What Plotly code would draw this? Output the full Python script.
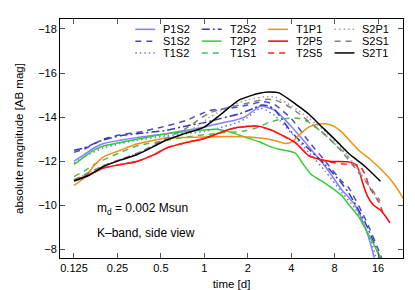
import plotly.graph_objects as go

# ---------------- data ----------------
series_names = ["P1S2", "S1S2", "T1S2", "T2S2", "T2P2", "T1S1",
                "T1P1", "T2P5", "T2S5", "S2P1", "S2S1", "S2T1"]

t_P1S2 = [0.125, 0.147, 0.172, 0.2, 0.262, 0.34, 0.548, 0.75, 1.0, 1.25, 1.6, 1.9, 2.2, 2.45, 2.7, 3.1, 4.04, 5.29, 6.89, 8.93, 11.1, 13.0, 14.4, 15.3]
m_P1S2 = [-12.0, -12.3, -12.6, -12.8, -12.95, -13.07, -13.25, -13.4, -13.55, -13.7, -13.85, -14.0, -14.3, -14.5, -14.45, -14.3, -13.55, -12.66, -11.76, -10.72, -10.0, -9.0, -8.1, -7.4]

t_S1S2 = [0.125, 0.147, 0.2, 0.262, 0.34, 0.548, 0.75, 1.09, 1.5, 2.0, 2.6, 3.1, 4.04, 5.29, 6.89, 8.93, 10.0, 13.0, 16.5, 17.3]
m_S1S2 = [-12.4, -12.55, -13.0, -13.2, -13.3, -13.6, -13.85, -14.3, -14.4, -14.55, -14.7, -14.55, -13.9, -12.9, -12.0, -11.1, -10.8, -9.4, -7.8, -7.4]

t_T1S2 = [0.125, 0.147, 0.2, 0.262, 0.34, 0.548, 0.75, 1.0, 1.25, 1.6, 1.9, 2.2, 2.45, 2.7, 3.1, 4.04, 5.29, 6.89, 8.93, 11.1, 13.0, 14.4, 15.8]
m_T1S2 = [-11.9, -12.2, -12.6, -12.8, -12.95, -13.15, -13.25, -13.35, -13.5, -13.7, -13.9, -14.2, -14.4, -14.3, -14.05, -13.25, -12.4, -11.55, -10.6, -9.85, -9.0, -8.3, -7.4]

t_T2S2 = [0.125, 0.147, 0.172, 0.2, 0.262, 0.34, 0.548, 0.75, 1.0, 1.27, 1.75, 2.2, 2.5, 2.8, 3.1, 4.04, 5.29, 6.89, 8.93, 10.0, 13.0, 16.2, 17.0]
m_T2S2 = [-12.5, -12.6, -12.8, -12.97, -13.15, -13.25, -13.4, -13.6, -13.75, -13.92, -14.15, -14.4, -14.55, -14.5, -14.3, -13.3, -12.55, -11.84, -11.0, -10.57, -9.23, -7.75, -7.4]

t_T2P2 = [0.125, 0.147, 0.172, 0.2, 0.262, 0.34, 0.548, 0.75, 1.0, 1.2, 1.49, 1.9, 2.4, 2.9, 3.29, 3.7, 4.3, 4.8, 5.5, 6.89, 8.93, 9.97, 11.7, 13.0, 15.0, 17.2]
m_T2P2 = [-11.85, -12.2, -12.5, -12.69, -12.85, -13.0, -13.25, -13.35, -13.42, -13.45, -13.33, -13.1, -12.88, -12.65, -12.54, -12.48, -12.35, -11.9, -11.4, -11.0, -10.45, -10.05, -9.5, -8.96, -8.2, -7.4]

t_T1S1 = [0.125, 0.147, 0.172, 0.2, 0.262, 0.34, 0.548, 0.75, 1.0, 1.4, 1.9, 2.4, 2.81, 3.4, 4.04, 4.6, 5.29, 6.89, 8.93, 9.97]
m_T1S1 = [-11.3, -11.55, -11.85, -12.06, -12.4, -12.69, -12.95, -13.1, -13.2, -13.3, -13.37, -13.55, -13.77, -13.9, -13.96, -13.93, -13.77, -13.18, -12.5, -12.2]

t_T1P1 = [0.125, 0.147, 0.172, 0.2, 0.262, 0.34, 0.548, 0.75, 1.0, 1.5, 2.05, 2.8, 3.3, 3.66, 4.1, 4.52, 5.29, 6.0, 6.89, 7.8, 8.93, 11.68, 14.0, 16.81, 20.0, 23.4, 24.5]
m_T1P1 = [-10.9, -11.24, -11.8, -12.2, -12.5, -12.78, -13.05, -13.08, -13.1, -13.12, -13.1, -13.0, -12.88, -12.8, -12.9, -13.18, -13.55, -13.67, -13.7, -13.6, -13.33, -12.51, -12.1, -11.62, -11.08, -10.42, -10.2]

t_T2P5 = [0.125, 0.147, 0.172, 0.2, 0.262, 0.34, 0.45, 0.548, 0.75, 1.0, 1.5, 2.0, 2.4, 2.8, 3.1, 4.29, 5.29, 6.2, 7.49, 9.97, 11.2, 11.9, 12.5, 13.5, 14.9, 16.5, 17.8, 19.3]
m_T2P5 = [-11.15, -11.3, -11.5, -11.69, -11.85, -11.99, -12.3, -12.6, -12.85, -13.03, -13.45, -13.58, -13.58, -13.45, -13.33, -12.83, -12.25, -12.1, -11.99, -11.97, -11.85, -11.5, -11.02, -10.42, -10.0, -9.8, -9.55, -9.2]

t_T2S5 = [0.125, 0.147, 0.172, 0.2, 0.262, 0.34, 0.45, 0.548, 0.75, 1.0, 1.5, 2.0, 2.4, 2.8, 3.1, 4.29, 5.29, 6.2, 7.49, 9.97, 11.9, 13.0, 14.0, 16.3, 17.6]
m_T2S5 = [-11.15, -11.3, -11.5, -11.69, -11.85, -11.99, -12.3, -12.6, -12.85, -13.03, -13.45, -13.58, -13.58, -13.45, -13.33, -12.83, -12.25, -12.1, -11.95, -11.85, -11.8, -11.4, -10.8, -10.1, -9.5]

t_S2P1 = [0.125, 0.2, 0.34, 0.548, 0.73, 0.9, 1.09, 1.5, 2.05, 2.6, 3.1, 4.04, 5.29, 6.89, 8.93, 11.68, 14.4, 16.8]
m_S2P1 = [-11.15, -11.8, -12.35, -13.0, -13.3, -13.6, -14.0, -14.5, -14.8, -14.92, -14.9, -14.5, -13.95, -13.35, -12.6, -11.6, -10.7, -10.0]

t_S2S1 = [0.125, 0.2, 0.34, 0.548, 0.73, 0.9, 1.09, 1.5, 2.05, 2.6, 3.1, 4.04, 5.29, 6.89, 8.93, 11.68, 14.4, 16.5]
m_S2S1 = [-11.15, -11.8, -12.35, -13.05, -13.45, -13.85, -14.2, -14.45, -14.65, -14.8, -14.78, -14.4, -13.8, -13.2, -12.45, -11.5, -10.75, -10.2]

t_S2T1 = [0.125, 0.158, 0.2, 0.262, 0.34, 0.548, 0.73, 1.0, 1.27, 1.75, 2.4, 2.81, 3.29, 4.29, 5.29, 6.2, 8.08, 9.97, 13.0, 16.6]
m_S2T1 = [-11.1, -11.35, -11.76, -12.05, -12.29, -12.96, -13.25, -13.55, -14.07, -14.78, -15.08, -15.14, -15.1, -14.59, -14.14, -13.7, -12.97, -12.36, -11.76, -11.09]

x_tick_vals = [0.125, 0.25, 0.5, 1, 2, 4, 8, 16]
x_tick_text = ["0.125", "0.25", "0.5", "1", "2", "4", "8", "16"]
y_tick_vals = [-18, -16, -14, -12, -10, -8]

series_t = {"P1S2": t_P1S2, "S1S2": t_S1S2, "T1S2": t_T1S2, "T2S2": t_T2S2,
            "T2P2": t_T2P2, "T1S1": t_T1S1, "T1P1": t_T1P1, "T2P5": t_T2P5,
            "T2S5": t_T2S5, "S2P1": t_S2P1, "S2S1": t_S2S1, "S2T1": t_S2T1}
series_m = {"P1S2": m_P1S2, "S1S2": m_S1S2, "T1S2": m_T1S2, "T2S2": m_T2S2,
            "T2P2": m_T2P2, "T1S1": m_T1S1, "T1P1": m_T1P1, "T2P5": m_T2P5,
            "T2S5": m_T2S5, "S2P1": m_S2P1, "S2S1": m_S2S1, "S2T1": m_S2T1}

# ---------------- styles ----------------
styles = {
    "P1S2": dict(color="#8080ff", dash="solid"),
    "S1S2": dict(color="#4848d0", dash="6px,5px"),
    "T1S2": dict(color="#7070f0", dash="1.5px,3px"),
    "T2S2": dict(color="#3a3aa8", dash="8px,3px,2px,3px"),
    "T2P2": dict(color="#33cc33", dash="solid"),
    "T1S1": dict(color="#4cbf4c", dash="6px,5px"),
    "T1P1": dict(color="#f29111", dash="solid"),
    "T2P5": dict(color="#ff0000", dash="solid"),
    "T2S5": dict(color="#ff2020", dash="6px,5px"),
    "S2P1": dict(color="#a0a0a0", dash="1.5px,3px"),
    "S2S1": dict(color="#808080", dash="6px,5px"),
    "S2T1": dict(color="#000000", dash="solid"),
}
LW = 1.5
FONT = "Liberation Sans, Arial, Helvetica, sans-serif"

W, H = 415, 290
ML, MR, MT, MB = 49, 20, 10, 37
PW, PH = W - ML - MR, H - MT - MB


def pxx(x):
    return (x - ML) / PW


def pxy(y):
    return (H - MB - y) / PH


fig = go.Figure()
for name in series_names:
    st = styles[name]
    fig.add_trace(go.Scatter(
        x=series_t[name], y=series_m[name], mode="lines", name=name,
        line=dict(color=st["color"], dash=st["dash"], width=LW,
                  shape="spline", smoothing=0.6),
        showlegend=False, hoverinfo="skip"))

# ---------------- legend (4 columns x 3 rows, drawn inside the plot) ----------------
leg_col_x = [125, 192, 259, 326]
leg_row_y = [20.5, 32.5, 44.5]
sample_len = 20
text_off = 26
shapes = []
annotations = []
for i, name in enumerate(series_names):
    c, r = divmod(i, 3)
    x0 = leg_col_x[c]
    y0 = leg_row_y[r]
    st = styles[name]
    shapes.append(dict(type="line", xref="paper", yref="paper",
                       x0=pxx(x0), x1=pxx(x0 + sample_len), y0=pxy(y0), y1=pxy(y0),
                       line=dict(color=st["color"], dash=st["dash"], width=LW)))
    annotations.append(dict(xref="paper", yref="paper", x=pxx(x0 + text_off), y=pxy(y0),
                            text=name, showarrow=False, xanchor="left", yanchor="middle",
                            font=dict(size=11, color="black", family=FONT)))

annotations.append(dict(xref="paper", yref="paper", x=pxx(84), y=pxy(203),
                        text="m<sub>d</sub> = 0.002 Msun", showarrow=False,
                        xanchor="left", yanchor="middle",
                        font=dict(size=12, color="black", family=FONT)))
annotations.append(dict(xref="paper", yref="paper", x=pxx(84), y=pxy(228),
                        text="K–band, side view", showarrow=False,
                        xanchor="left", yanchor="middle",
                        font=dict(size=12, color="black", family=FONT)))

fig.update_layout(
    width=W, height=H,
    margin=dict(l=ML, r=MR, t=MT, b=MB, pad=0),
    paper_bgcolor="white", plot_bgcolor="white",
    showlegend=False,
    font=dict(family=FONT, size=11, color="black"),
    shapes=shapes, annotations=annotations,
)
fig.update_xaxes(
    type="log", range=[-1.0, 1.3766],
    tickvals=x_tick_vals, ticktext=x_tick_text,
    ticks="inside", ticklen=5, tickcolor="#555555", tickwidth=1,
    showline=True, linecolor="black", linewidth=1, mirror="ticks",
    showgrid=False, zeroline=False,
    title=dict(text="time [d]", font=dict(size=11.5), standoff=6),
    tickfont=dict(size=11),
)
fig.update_yaxes(
    range=[-7.61, -18.45],
    tickvals=y_tick_vals,
    ticks="inside", ticklen=5, tickcolor="#555555", tickwidth=1,
    showline=True, linecolor="black", linewidth=1, mirror="ticks",
    showgrid=False, zeroline=False,
    title=dict(text="absolute magnitude [AB mag]", font=dict(size=11.5), standoff=12),
    tickfont=dict(size=11),
)

fig.write_html("out.html")
